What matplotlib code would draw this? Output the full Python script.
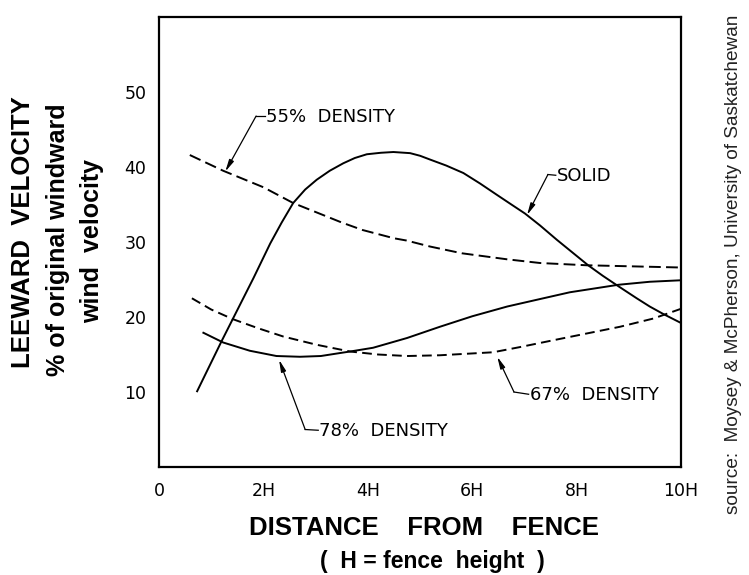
import numpy as np
import matplotlib
matplotlib.use("Agg")
import matplotlib.pyplot as plt

plt.rcParams["lines.scale_dashes"] = False

# values (x in fence heights H, y in % of windward velocity)
solid_x = [0.73, 1.2, 1.81, 2.13, 2.35, 2.57, 2.8, 3.02, 3.27, 3.53, 3.75, 3.98, 4.25, 4.49, 4.81,
           5.0, 5.19, 5.5, 5.83, 6.15, 6.47, 6.75, 7.01, 7.3, 7.62, 7.92, 8.22, 8.5, 8.8, 9.15,
           9.4, 9.66, 10.0]
solid_y = [10.1, 16.8, 25.2, 29.8, 32.6, 35.2, 37.0, 38.3, 39.5, 40.5, 41.2, 41.7, 41.9, 42.0, 41.85,
           41.5, 41.0, 40.2, 39.2, 37.8, 36.3, 35.0, 33.8, 32.2, 30.3, 28.6, 26.9, 25.5, 24.1, 22.5,
           21.4, 20.4, 19.2]

d55_x = [0.59, 1.23, 2.0, 2.57, 3.0, 3.5, 3.9, 4.5, 4.74, 5.19, 5.8, 6.66, 7.3, 8.19, 9.4, 10.0]
d55_y = [41.6, 39.5, 37.3, 35.2, 34.0, 32.6, 31.6, 30.5, 30.2, 29.4, 28.5, 27.7, 27.2, 26.9, 26.7, 26.6]

d78_x = [0.85, 1.23, 1.74, 2.25, 2.7, 3.1, 3.47, 3.66, 4.1, 4.75, 5.38, 6.0, 6.67, 7.3, 7.87,
         8.8, 9.4, 10.0]
d78_y = [17.9, 16.6, 15.5, 14.8, 14.7, 14.8, 15.2, 15.4, 15.9, 17.2, 18.7, 20.1, 21.4, 22.4, 23.3,
         24.3, 24.7, 24.9]

d67_x = [0.63, 1.0, 1.42, 1.9, 2.38, 3.02, 3.66, 4.2, 4.75, 5.38, 6.4, 6.92, 7.55, 8.19, 8.83,
         9.47, 10.0]
d67_y = [22.5, 21.0, 19.7, 18.5, 17.4, 16.3, 15.4, 15.0, 14.8, 14.9, 15.3, 16.0, 16.9, 17.8, 18.7,
         19.8, 21.1]

x_ticks = [0, 2, 4, 6, 8, 10]
x_tick_labels = ["0", "2H", "4H", "6H", "8H", "10H"]
y_ticks = [10, 20, 30, 40, 50]

fig = plt.figure(figsize=(7.49, 5.75), dpi=100)
ax = fig.add_axes([0.2123, 0.1878, 0.697, 0.7826])

ax.plot(solid_x, solid_y, color="black", lw=1.4)
ax.plot(d78_x, d78_y, color="black", lw=1.4)
ax.plot(d55_x, d55_y, color="black", lw=1.4, dashes=(8.5, 3.8))
ax.plot(d67_x, d67_y, color="black", lw=1.4, dashes=(7, 3.8))

ax.set_xlim(0, 10)
ax.set_ylim(0, 60)
ax.set_xticks(x_ticks)
ax.set_xticklabels(x_tick_labels)
ax.set_yticks(y_ticks)
ax.tick_params(axis="both", length=0, labelsize=12.5)
ax.tick_params(axis="x", pad=11)
ax.tick_params(axis="y", pad=9)
for s in ax.spines.values():
    s.set_linewidth(1.6)

# curve labels with leader lines
label_font = dict(fontsize=13, va="center", ha="left", family="DejaVu Sans")
leaders = [
    # text, text pos, elbow, arrow tip
    ("55%  DENSITY", (2.05, 46.7), (1.86, 46.8), (1.27, 39.4)),
    ("SOLID", (7.62, 38.8), (7.45, 39.0), (7.05, 33.6)),
    ("67%  DENSITY", (7.1, 9.6), (6.8, 10.0), (6.48, 14.7)),
    ("78%  DENSITY", (3.07, 4.8), (2.8, 5.0), (2.3, 14.3)),
]
for txt, tpos, elbow, tip in leaders:
    ax.text(tpos[0], tpos[1], txt, **label_font)
    ax.plot([tpos[0] - 0.02, elbow[0]], [tpos[1] + 0.1, elbow[1]], color="black", lw=0.9)
    ax.annotate("", xy=tip, xytext=elbow,
                arrowprops=dict(arrowstyle="-|>,head_length=0.7,head_width=0.15",
                                color="black", lw=0.9, shrinkA=0, shrinkB=0))

bold = dict(family="Liberation Sans", fontweight="bold", color="black")
fig.text(0.031, 0.597, "LEEWARD  VELOCITY", rotation=90, ha="center", va="center", fontsize=18.5, **bold)
fig.text(0.077, 0.583, "% of original windward", rotation=90, ha="center", va="center", fontsize=18, **bold)
fig.text(0.123, 0.581, "wind  velocity", rotation=90, ha="center", va="center", fontsize=18, **bold)

fig.text(0.566, 0.082, "DISTANCE    FROM    FENCE", ha="center", va="center", fontsize=18.5, **bold)
fig.text(0.577, 0.0115, "(  H = fence  height  )", ha="center", va="baseline", fontsize=16.5, **bold)

fig.text(0.979, 0.541, "source:  Moysey & McPherson, University of Saskatchewan", rotation=90,
         ha="center", va="center", fontsize=13.7, family="Liberation Sans", color="#222222")

fig.savefig("out.png", dpi=100)
